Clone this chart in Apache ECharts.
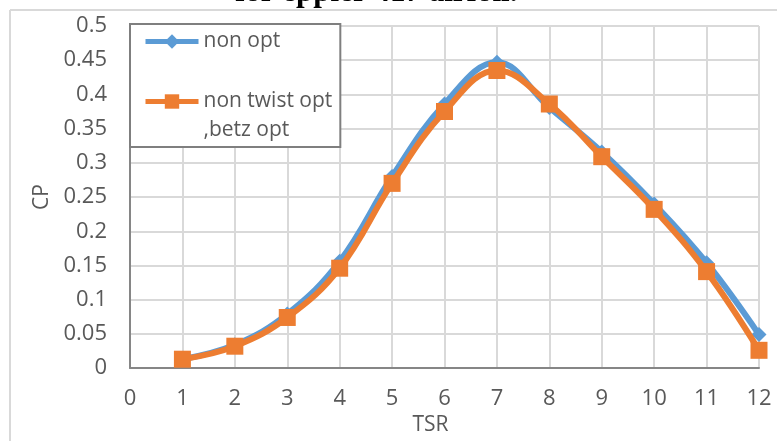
<!DOCTYPE html>
<html>
<head>
<meta charset="utf-8">
<script src="https://cdn.jsdelivr.net/npm/echarts@6/dist/echarts.min.js"></script>
<style>
  html, body { margin: 0; padding: 0; background: #ffffff; }
  #chart { width: 777px; height: 441px; }
</style>
</head>
<body>
<div id="chart"></div>
<script>
// Tip speed ratio values on the x axis
const tsr = [1, 2, 3, 4, 5, 6, 7, 8, 9, 10, 11, 12];
// Power coefficient for the blade without optimisation
const cpNonOpt = [0.013, 0.034, 0.079, 0.156, 0.280, 0.386, 0.447, 0.381, 0.316, 0.240, 0.154, 0.049];
// Power coefficient for the untwisted Betz-optimised blade
const cpNonTwistOpt = [0.013, 0.032, 0.074, 0.146, 0.270, 0.375, 0.435, 0.386, 0.309, 0.232, 0.141, 0.026];
const seriesNames = ['non opt', 'non twist opt ,betz opt'];
// Legend text for each series (second one wraps onto two lines)
const legendLabels = {
  'non opt': 'non opt',
  'non twist opt ,betz opt': '\nnon twist opt\n,betz opt'
};
const titleText = 'for eppler 417 airfoil.';

const textGray = '#595959';
const font = '"Open Sans", "Noto Sans", sans-serif';

const chart = echarts.init(document.getElementById('chart'), null, { renderer: 'canvas' });

chart.setOption({
  animation: false,
  backgroundColor: '#ffffff',
  graphic: [
    {
      type: 'text',
      left: 235,
      top: -23,
      style: {
        text: titleText,
        fill: '#000000',
        font: 'bold 31px "Liberation Serif", "DejaVu Serif", serif'
      },
      z: 1
    },
    {
      type: 'line',
      shape: { x1: 10, y1: 10, x2: 777, y2: 10 },
      style: { stroke: '#d9d9d9', lineWidth: 2 },
      z: 2
    },
    {
      type: 'line',
      shape: { x1: 10, y1: 10, x2: 10, y2: 441 },
      style: { stroke: '#d9d9d9', lineWidth: 2 },
      z: 2
    }
  ],
  grid: { left: 130, right: 18, top: 26, bottom: 65, containLabel: false },
  legend: {
    orient: 'vertical',
    left: 130,
    top: 24,
    padding: [3, 8, 2, 13],
    itemGap: 2,
    itemWidth: 53,
    itemHeight: 18,
    backgroundColor: '#ffffff',
    borderColor: '#7f7f7f',
    borderWidth: 2,
    borderRadius: 0,
    lineStyle: { width: 5 },
    formatter: name => legendLabels[name],
    textStyle: { color: textGray, fontSize: 21, fontFamily: font, lineHeight: 29 },
    data: seriesNames,
    z: 10
  },
  xAxis: {
    type: 'value',
    min: 0,
    max: 12,
    interval: 1,
    name: 'TSR',
    nameLocation: 'middle',
    nameGap: 44,
    nameTextStyle: { color: textGray, fontSize: 21, fontFamily: font, padding: [0, 28, 0, 0] },
    axisLine: { show: true, lineStyle: { color: '#868686', width: 2 } },
    axisTick: { show: false },
    axisLabel: { color: textGray, fontSize: 22, fontFamily: font, margin: 20 },
    splitLine: { show: true, lineStyle: { color: '#d9d9d9', width: 2 } }
  },
  yAxis: {
    type: 'value',
    min: 0,
    max: 0.5,
    interval: 0.05,
    name: 'CP',
    nameLocation: 'middle',
    nameGap: 74,
    nameRotate: 90,
    nameTextStyle: { color: textGray, fontSize: 21, fontFamily: font },
    axisLine: { show: true, lineStyle: { color: '#868686', width: 2 } },
    axisTick: { show: false },
    axisLabel: { color: textGray, fontSize: 22, fontFamily: font, margin: 23 },
    splitLine: { show: true, lineStyle: { color: '#d9d9d9', width: 2 } }
  },
  series: [
    {
      name: seriesNames[0],
      type: 'line',
      data: tsr.map((x, i) => [x, cpNonOpt[i]]),
      smooth: 0.4,
      symbol: 'diamond',
      symbolSize: 15,
      showAllSymbol: true,
      lineStyle: { color: '#5b9bd5', width: 6 },
      itemStyle: { color: '#5b9bd5' },
      z: 3
    },
    {
      name: seriesNames[1],
      type: 'line',
      data: tsr.map((x, i) => [x, cpNonTwistOpt[i]]),
      smooth: 0.4,
      symbol: 'rect',
      symbolSize: 17,
      showAllSymbol: true,
      lineStyle: { color: '#ed7d31', width: 6 },
      itemStyle: { color: '#ed7d31' },
      z: 4
    }
  ]
});
</script>
</body>
</html>
